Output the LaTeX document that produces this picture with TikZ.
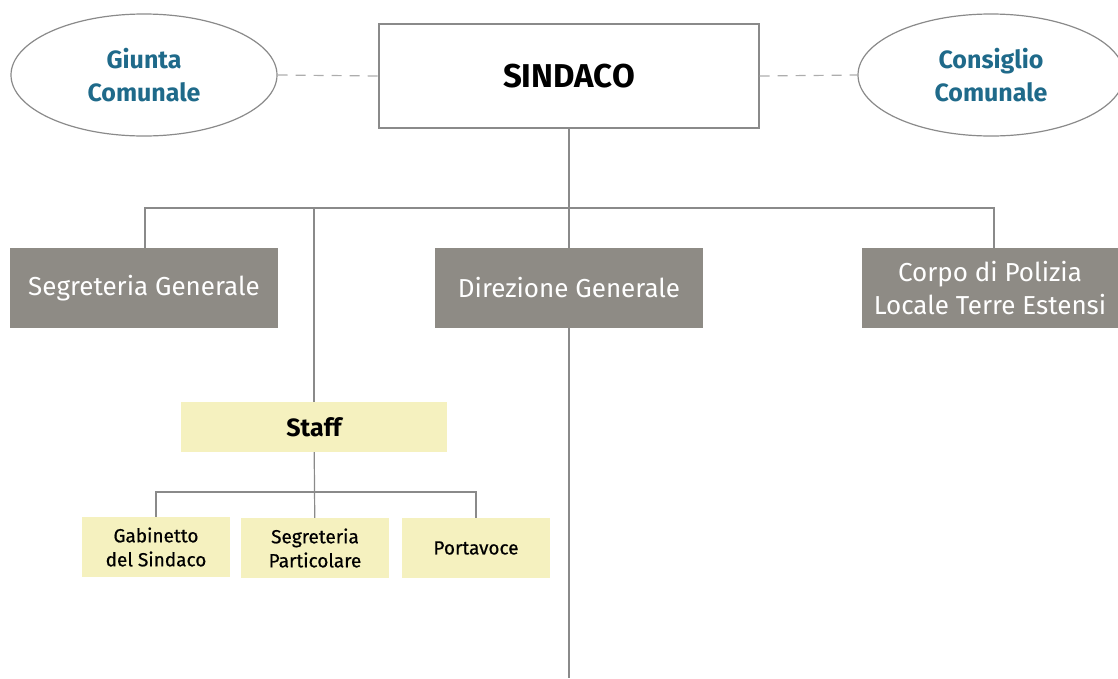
\documentclass[tikz,border=0pt]{standalone}
\usepackage{fontspec}
\setmainfont{Fira Sans}
\newfontfamily\firamedium[FakeBold=0.6]{Fira Sans}
\usetikzlibrary{shapes.geometric}

\definecolor{boxgray}{HTML}{8E8B85}
\definecolor{staffyellow}{HTML}{F5F1BF}
\definecolor{titleblue}{HTML}{1F6A8A}
\definecolor{linegray}{HTML}{8A8A8A}

\begin{document}
\begin{tikzpicture}[x=1pt, y=-1pt,
  organo/.style={ellipse, draw=linegray, line width=1.2pt, minimum width=266pt, minimum height=122pt,
    text=titleblue, font=\fontsize{25}{33}\selectfont\bfseries, align=center, inner sep=0pt},
  vertice/.style={draw=linegray, line width=1.2pt, minimum width=380pt, minimum height=104pt,
    font=\fontsize{33}{36}\selectfont\bfseries},
  ufficio/.style={fill=boxgray, text=white, minimum width=268pt, minimum height=80pt,
    font=\fontsize{26}{33}\selectfont, align=center},
  staffbox/.style={fill=staffyellow, minimum width=266pt, minimum height=50pt,
    font=\fontsize{25}{28}\selectfont\bfseries},
  sottobox/.style={fill=staffyellow, minimum width=148pt, minimum height=60pt,
    font=\fontsize{19}{24}\selectfont\firamedium, align=center},
  link/.style={draw=linegray, line width=1.2pt},
  tratteggio/.style={draw=linegray!70, line width=1.2pt, dash pattern=on 10pt off 8pt}]

\useasboundingbox (0,0) rectangle (1118,678);

% vertice
\node[vertice] (sindaco) at (569,76) {SINDACO};
\node[organo] (giunta) at (144,75) {Giunta\\Comunale};
\node[organo] (consiglio) at (991,75) {Consiglio\\Comunale};

\draw[tratteggio] (giunta.east) -- (sindaco.west);
\draw[tratteggio] (sindaco.east) -- (consiglio.west);

% uffici
\node[ufficio] (segretaria) at (144,288) {Segreteria Generale};
\node[ufficio] (direzione) at (569,288) {Direzione Generale};
\node[ufficio, minimum width=256pt] (polizia) at (990,288) {Corpo di Polizia\\Locale Terre Estensi};

\coordinate (busL) at (145,208);
\coordinate (busR) at (994,208);
\coordinate (fondo) at (569,678);

\draw[link] (sindaco) -- (direzione);
\draw[link] (segretaria.north -| busL) -- (busL) -- (busR) -- (polizia.north -| busR);
\draw[link] (direzione) -- (fondo);

% staff
\node[staffbox] (staff) at (314,427) {Staff};
\draw[link] (staff.north) -- (staff.north |- busL);

\node[sottobox] (gabinetto) at (156,547) {Gabinetto\\del Sindaco};
\node[sottobox] (particolare) at (315,548) {Segreteria\\Particolare};
\node[sottobox] (portavoce) at (476,548) {Portavoce};

\coordinate (sbus) at (315,492);
\draw[link] (staff) -- (particolare);
\draw[link] (gabinetto.north) -- (gabinetto.north |- sbus) -- (portavoce.north |- sbus) -- (portavoce.north);

\end{tikzpicture}
\end{document}
